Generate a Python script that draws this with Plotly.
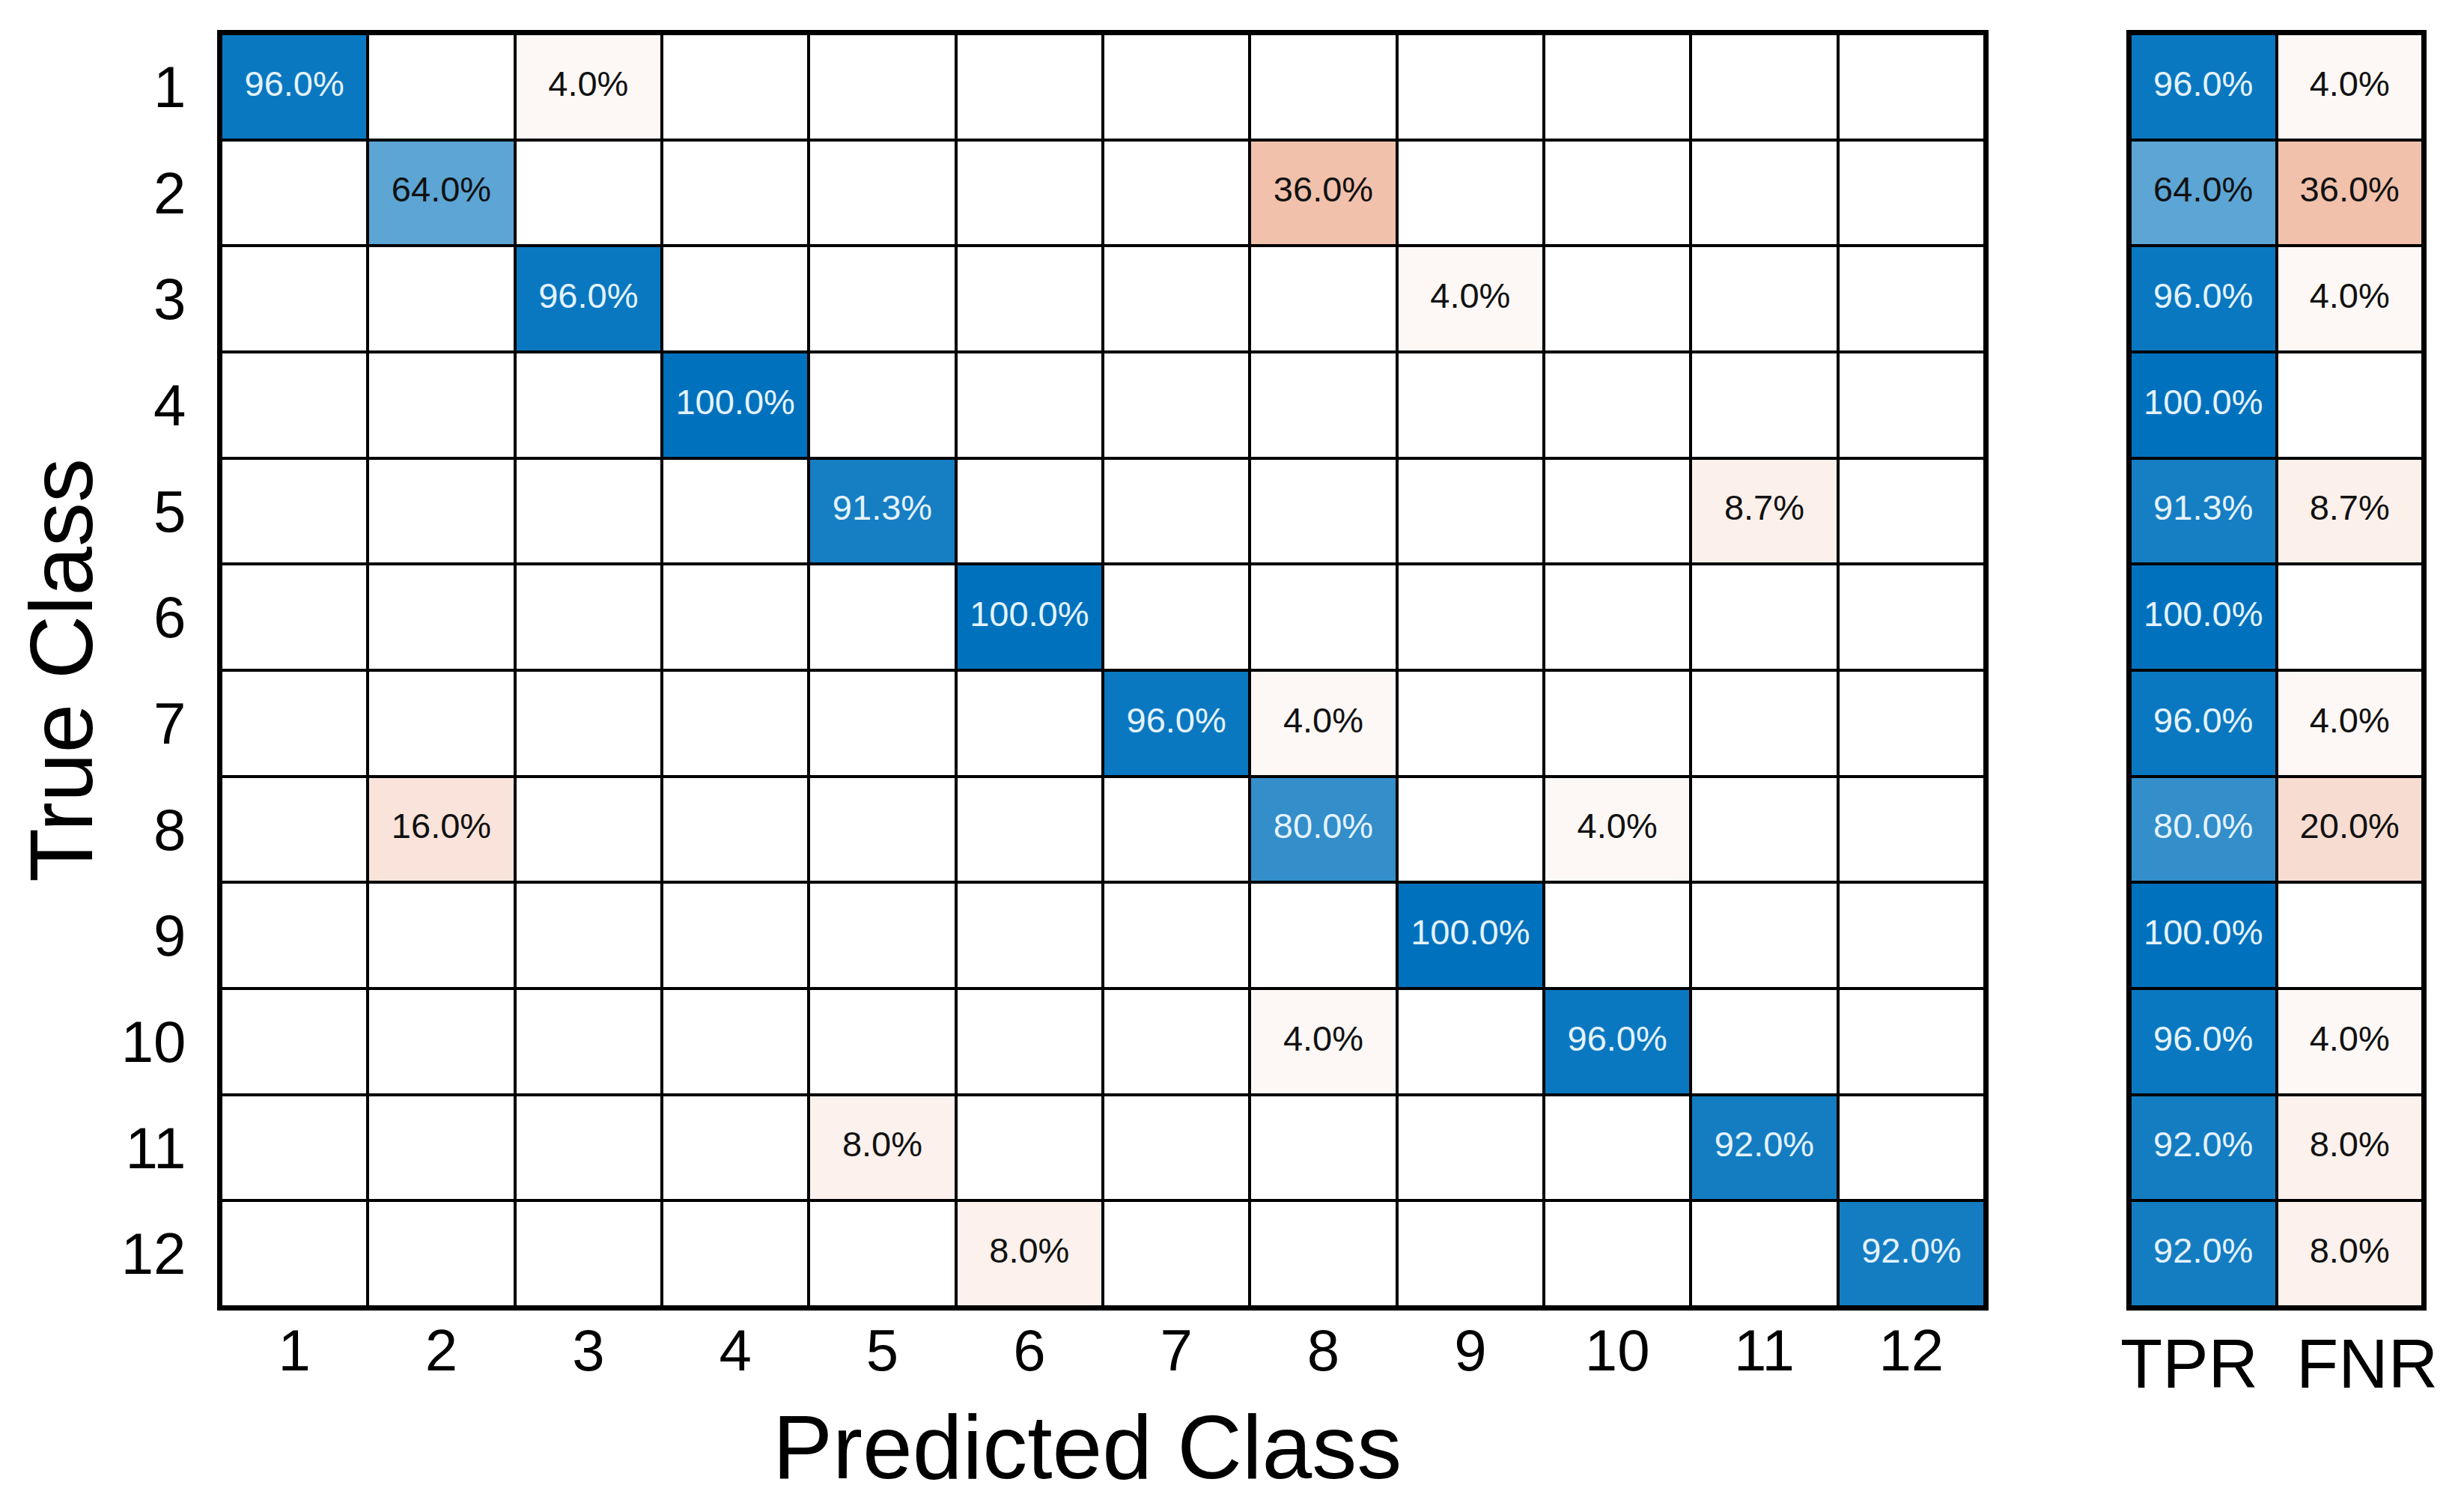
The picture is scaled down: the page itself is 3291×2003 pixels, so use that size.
import plotly.graph_objects as go

# ---------------- data ----------------
classes = [str(i) for i in range(1, 13)]
rate_labels = ["TPR", "FNR"]

# row-normalised confusion matrix in percent (rows: true class, columns: predicted class)
confusion_pct = [
    [96.0, 0, 4.0, 0, 0, 0, 0, 0, 0, 0, 0, 0],
    [0, 64.0, 0, 0, 0, 0, 0, 36.0, 0, 0, 0, 0],
    [0, 0, 96.0, 0, 0, 0, 0, 0, 4.0, 0, 0, 0],
    [0, 0, 0, 100.0, 0, 0, 0, 0, 0, 0, 0, 0],
    [0, 0, 0, 0, 91.3, 0, 0, 0, 0, 0, 8.7, 0],
    [0, 0, 0, 0, 0, 100.0, 0, 0, 0, 0, 0, 0],
    [0, 0, 0, 0, 0, 0, 96.0, 4.0, 0, 0, 0, 0],
    [0, 16.0, 0, 0, 0, 0, 0, 80.0, 0, 4.0, 0, 0],
    [0, 0, 0, 0, 0, 0, 0, 0, 100.0, 0, 0, 0],
    [0, 0, 0, 0, 0, 0, 0, 4.0, 0, 96.0, 0, 0],
    [0, 0, 0, 0, 8.0, 0, 0, 0, 0, 0, 92.0, 0],
    [0, 0, 0, 0, 0, 8.0, 0, 0, 0, 0, 0, 92.0],
]
tpr_pct = [96.0, 64.0, 96.0, 100.0, 91.3, 100.0, 96.0, 80.0, 100.0, 96.0, 92.0, 92.0]
fnr_pct = [4.0, 36.0, 4.0, 0, 8.7, 0, 4.0, 20.0, 0, 4.0, 8.0, 8.0]

# ---------------- styling ----------------
DIAG_RGB = "rgb(0,114,189)"
OFF_RGB = "rgb(217,83,25)"
FONT = "Liberation Sans, Arial, Helvetica, sans-serif"
LIGHT_TXT = "#E4F3FF"
DARK_TXT = "#111111"
CELL_FONT = 47
GAP = 4

colorscale = [[0.0, OFF_RGB], [0.5, "white"], [1.0, DIAG_RGB]]

n = len(classes)
pos = list(range(1, n + 1))

# signed values: positive -> correct (blue), negative -> wrong (orange)
z_main = []
for i in range(n):
    row = []
    for j in range(n):
        v = confusion_pct[i][j] / 100.0
        row.append(v if i == j else -v)
    z_main.append(row)

z_side = [[tpr_pct[i] / 100.0, -fnr_pct[i] / 100.0] for i in range(n)]


def txt_color(v, diag):
    return LIGHT_TXT if (diag and v >= 70) else DARK_TXT


mx, my, mt, mc = [], [], [], []
for i in range(n):
    for j in range(n):
        v = confusion_pct[i][j]
        if v > 0:
            mx.append(pos[j])
            my.append(pos[i])
            mt.append(f"{v:.1f}%")
            mc.append(txt_color(v, i == j))

sx, sy, st, sc = [], [], [], []
for i in range(n):
    for k, (v, diag) in enumerate([(tpr_pct[i], True), (fnr_pct[i], False)]):
        if v > 0:
            sx.append(k + 1)
            sy.append(pos[i])
            st.append(f"{v:.1f}%")
            sc.append(txt_color(v, diag))

fig = go.Figure()
fig.add_trace(go.Heatmap(
    x=pos, y=pos, z=z_main, colorscale=colorscale, zmin=-1, zmax=1,
    showscale=False, xgap=GAP, ygap=GAP, hoverinfo="skip",
    xaxis="x", yaxis="y"))
fig.add_trace(go.Scatter(
    x=mx, y=my, text=mt, mode="text",
    textfont=dict(family=FONT, size=CELL_FONT, color=mc),
    hoverinfo="skip", showlegend=False, xaxis="x", yaxis="y"))
fig.add_trace(go.Heatmap(
    x=[1, 2], y=pos, z=z_side, colorscale=colorscale, zmin=-1, zmax=1,
    showscale=False, xgap=GAP, ygap=GAP, hoverinfo="skip",
    xaxis="x2", yaxis="y2"))
fig.add_trace(go.Scatter(
    x=sx, y=sy, text=st, mode="text",
    textfont=dict(family=FONT, size=CELL_FONT, color=sc),
    hoverinfo="skip", showlegend=False, xaxis="x2", yaxis="y2"))

W, H = 3291, 2003
main_x = [287 / W, 2643 / W]
side_x = [2837 / W, 3228 / W]
grid_y = [1 - 1737 / H, 1 - 37 / H]

axis_common = dict(showgrid=False, zeroline=False, showline=True, mirror=True,
                   linecolor="black", linewidth=5, ticks="", fixedrange=True)

rate_annotations = [
    dict(text=rate_labels[k], x=k + 1, xref="x2", y=1 - 1760 / H, yref="paper",
         xanchor="center", yanchor="top", xshift=shift, showarrow=False,
         font=dict(size=92, family=FONT, color="black"))
    for k, shift in enumerate([-19, 23])
]

fig.update_layout(
    width=W, height=H, margin=dict(l=0, r=0, t=0, b=0),
    paper_bgcolor="white", plot_bgcolor="black",
    font=dict(family=FONT, color="black"),
    showlegend=False,
    xaxis=dict(domain=main_x, range=[0.5, n + 0.5], tickvals=pos, ticktext=classes,
               tickfont=dict(size=78, color="black"), ticklabelstandoff=-14,
               anchor="y", **axis_common),
    yaxis=dict(domain=grid_y, range=[n + 0.5, 0.5], tickvals=pos, ticktext=classes,
               tickfont=dict(size=78, color="black"), ticklabelstandoff=26,
               anchor="x", **axis_common),
    xaxis2=dict(domain=side_x, range=[0.5, 2.5], showticklabels=False,
                anchor="y2", **axis_common),
    yaxis2=dict(domain=grid_y, range=[n + 0.5, 0.5], showticklabels=False,
                anchor="x2", **axis_common),
    annotations=[
        dict(text="Predicted Class", x=1444 / W, y=1 - 1924 / H, xref="paper", yref="paper",
             xanchor="center", yanchor="middle", showarrow=False,
             font=dict(size=120, family=FONT, color="black")),
        dict(text="True Class", x=74 / W, y=1 - 887 / H, xref="paper", yref="paper",
             xanchor="center", yanchor="middle", showarrow=False, textangle=-90,
             font=dict(size=118, family=FONT, color="black")),
    ] + rate_annotations,
)

fig.write_html("out.html")
